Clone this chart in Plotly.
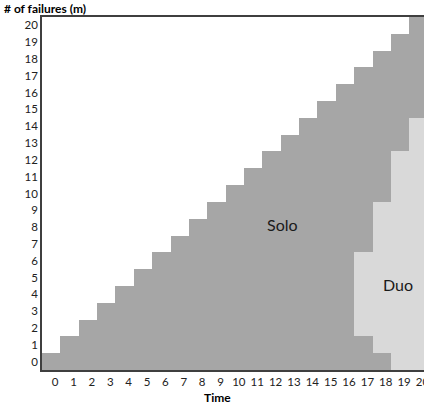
import plotly.graph_objects as go

# Time steps and failure counts
times = list(range(21))
failures = list(range(21))

# Solo region: at each time t the cells 0..solo_top[t] are filled
solo_top = list(range(21))

# Duo region: time steps where it appears and its lower/upper failure rows
duo_times = [17, 18, 19, 20]
duo_low = [2, 1, 0, 0]
duo_high = [6, 9, 12, 14]

SOLO_COLOR = "#a6a6a6"
DUO_COLOR = "#d9d9d9"
AXIS_COLOR = "#3f3f3f"
FONT = "Lato"

fig = go.Figure()

fig.add_trace(go.Bar(
    x=times,
    y=[top + 1 for top in solo_top],
    base=[-0.5] * len(times),
    marker=dict(color=SOLO_COLOR, line=dict(width=0)),
    width=1.0,
    name="Solo",
    hoverinfo="skip",
))

fig.add_trace(go.Bar(
    x=duo_times,
    y=[hi - lo + 1 for lo, hi in zip(duo_low, duo_high)],
    base=[lo - 0.5 for lo in duo_low],
    marker=dict(color=DUO_COLOR, line=dict(width=0)),
    width=1.0,
    name="Duo",
    hoverinfo="skip",
))

fig.add_annotation(x=12.62, y=8.17, text="Solo", showarrow=False,
                   font=dict(family=FONT, size=16, color="#1a1a1a"))
fig.add_annotation(x=18.88, y=4.6, text="Duo", showarrow=False,
                   font=dict(family=FONT, size=16, color="#1a1a1a"))

fig.add_annotation(xref="paper", yref="paper", x=-0.105, y=1.05,
                   xanchor="left", yanchor="top", showarrow=False,
                   text="<b># of failures (m)</b>",
                   font=dict(family=FONT, size=12, color="#000000"))
fig.add_annotation(x=9.07, xref="x", yref="paper", y=-0.077,
                   xanchor="center", yanchor="middle", showarrow=False,
                   text="<b>Time</b>",
                   font=dict(family=FONT, size=12, color="#000000"))

fig.update_layout(
    width=424, height=410,
    margin=dict(l=42, r=0, t=17, b=40, autoexpand=False),
    barmode="overlay",
    bargap=0,
    showlegend=False,
    plot_bgcolor="white",
    paper_bgcolor="white",
    font=dict(family=FONT, size=11.5, color="#222222"),
)

fig.update_xaxes(
    range=[-0.5, 20.3],
    tickmode="array", tickvals=times, ticktext=[str(t) for t in times],
    showgrid=False, zeroline=False,
    showline=True, linecolor=AXIS_COLOR, linewidth=1.5, mirror=True,
    ticks="", ticklabelshift=4, ticklabeloverflow="allow", automargin=False,
    tickfont=dict(family=FONT, size=11.5, color="#222222"),
)
fig.update_yaxes(
    range=[-0.5, 20.5],
    tickmode="array", tickvals=failures, ticktext=[str(f) for f in failures],
    showgrid=False, zeroline=False,
    showline=True, linecolor=AXIS_COLOR, linewidth=1.5,
    ticks="", automargin=False,
    tickfont=dict(family=FONT, size=11.5, color="#222222"),
)

fig.write_html("out.html")
